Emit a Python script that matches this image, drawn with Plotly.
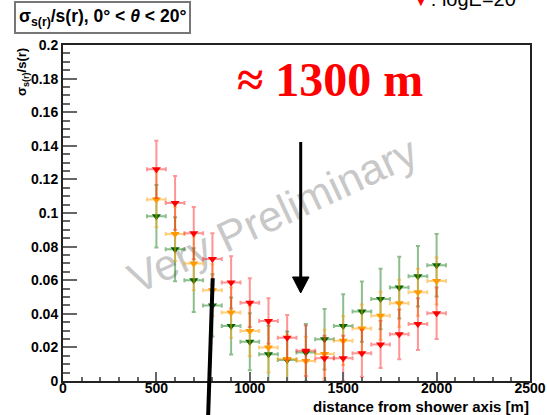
import plotly.graph_objects as go

# ---- data ----
distance = [500, 600, 700, 800, 900, 1000, 1100, 1200, 1300, 1400, 1500, 1600, 1700, 1800, 1900, 2000]
bin_half_width = [50] * 16

red_vals = [0.126, 0.106, 0.088, 0.0726, 0.0587, 0.0466, 0.0357, 0.0258, 0.018, 0.0135, 0.0135, 0.0165, 0.0218, 0.0278, 0.0339, 0.0403]
red_errs = [0.017, 0.016, 0.0155, 0.0153, 0.0155, 0.0145, 0.0135, 0.0135, 0.015, 0.0135, 0.0135, 0.014, 0.014, 0.0148, 0.0154, 0.0153]

orange_vals = [0.108, 0.0875, 0.070, 0.054, 0.0407, 0.0298, 0.020, 0.0131, 0.0119, 0.016, 0.024, 0.0313, 0.0388, 0.0463, 0.0528, 0.0595]
orange_errs = [0.0165, 0.016, 0.016, 0.0155, 0.015, 0.015, 0.015, 0.0145, 0.0145, 0.0145, 0.0145, 0.0143, 0.0143, 0.014, 0.014, 0.014]

green_vals = [0.098, 0.0784, 0.060, 0.045, 0.0327, 0.0234, 0.0159, 0.0125, 0.0169, 0.0248, 0.0327, 0.0413, 0.0488, 0.0556, 0.0623, 0.0689]
green_errs = [0.0186, 0.019, 0.019, 0.0185, 0.017, 0.017, 0.017, 0.017, 0.017, 0.018, 0.019, 0.018, 0.018, 0.0184, 0.018, 0.0186]

x_ticks = [0, 500, 1000, 1500, 2000, 2500]

FONT = "Liberation Sans"

fig = go.Figure()

series = [
    (green_vals, green_errs, "#006400", "rgba(0,110,0,0.45)"),
    (orange_vals, orange_errs, "#ff9900", "rgba(255,160,0,0.5)"),
    (red_vals, red_errs, "#ff0000", "rgba(255,0,0,0.42)"),
]
for vals, errs, mcol, ecol in series:
    fig.add_trace(go.Scatter(
        x=distance, y=vals, mode="markers",
        marker=dict(symbol="triangle-down", size=8, color=mcol, line=dict(width=0)),
        error_y=dict(type="data", array=errs, visible=True, color=ecol, thickness=2, width=2),
        error_x=dict(type="data", array=bin_half_width, visible=True, color=ecol, thickness=2, width=2),
        showlegend=False, hoverinfo="skip",
    ))

axis_common = dict(
    showline=True, linecolor="#222", linewidth=2, mirror=True, automargin=False,
    showgrid=False, zeroline=False, ticks="inside", tickcolor="#666", tickwidth=2,
    tickfont=dict(family=FONT, size=14, color="black", weight="bold"),
)
fig.update_xaxes(range=[0, 2500], tickvals=x_ticks, ticklen=9, ticklabelstandoff=-7,
                 minor=dict(dtick=100, ticks="inside", ticklen=4, tickcolor="#666", tickwidth=2),
                 **axis_common)
fig.update_yaxes(range=[0, 0.2], dtick=0.02, tick0=0, ticklen=14,
                 minor=dict(dtick=0.005, ticks="inside", ticklen=7, tickcolor="#666", tickwidth=2),
                 **axis_common)

# geometry helpers (pixel -> paper) for decorations
L, R, T, B = 63, 530, 45, 381
def px(x):
    return (x - L) / (R - L)
def py(y):
    return (B - y) / (B - T)

# watermark behind data
cx, cy = 281, 236
fig.add_shape(type="line", xref="paper", yref="paper",
              x0=px(cx - 90.6), y0=py(cy + 42.3), x1=px(cx + 90.6), y1=py(cy - 42.3),
              line=dict(color="rgba(0,0,0,0)", width=0), layer="below",
              label=dict(text="Very Preliminary", textangle=-25, textposition="middle",
                         font=dict(family=FONT, size=43, color="#c8c8c8")))

# arrow
fig.add_shape(type="line", xref="paper", yref="paper",
              x0=px(300.7), y0=py(142), x1=px(300.7), y1=py(280),
              line=dict(color="black", width=3))
fig.add_shape(type="path", xref="paper", yref="paper",
              path=f"M {px(292.5)},{py(277)} L {px(309)},{py(277)} L {px(300.7)},{py(293)} Z",
              fillcolor="black", line=dict(color="black", width=1))
# thick black line
fig.add_shape(type="line", xref="paper", yref="paper",
              x0=px(212.7), y0=py(278.3), x1=px(208), y1=py(420),
              line=dict(color="black", width=4))

annotations = [
    dict(text="σ<sub>s(r)</sub>/s(r), 0° &lt; <i>θ</i> &lt; 20°", x=px(102.5), y=py(17.5),
         xanchor="center", yanchor="middle", showarrow=False,
         font=dict(family=FONT, size=17.5, color="black", weight="bold"),
         bordercolor="#777", borderwidth=2, borderpad=3, bgcolor="white"),
    dict(text="≈ 1300 m", x=px(330), y=py(80), xanchor="center", yanchor="middle", showarrow=False,
         font=dict(family="Liberation Serif", size=48, color="red", weight="bold")),
    dict(text="σ<sub>s(r)</sub>/s(r)", x=px(22), y=py(72), xanchor="center", yanchor="middle",
         textangle=-90, showarrow=False,
         font=dict(family=FONT, size=13, color="black", weight="bold")),
    dict(text="distance from shower axis [m]", x=px(531), y=py(406), xanchor="right", yanchor="middle",
         showarrow=False, font=dict(family=FONT, size=15, color="black", weight="bold")),
    dict(text="<span style='color:red'>▼</span>: logE=20      ,", x=px(409), y=py(-1),
         xanchor="left", yanchor="middle", showarrow=False,
         font=dict(family=FONT, size=20, color="black")),
]
for a in annotations:
    a.setdefault("xref", "paper")
    a.setdefault("yref", "paper")
fig.update_layout(
    width=547, height=415,
    margin=dict(l=L, r=547 - R, t=T, b=415 - B),
    paper_bgcolor="white", plot_bgcolor="white",
    showlegend=False, annotations=annotations,
)

fig.write_html("out.html")
